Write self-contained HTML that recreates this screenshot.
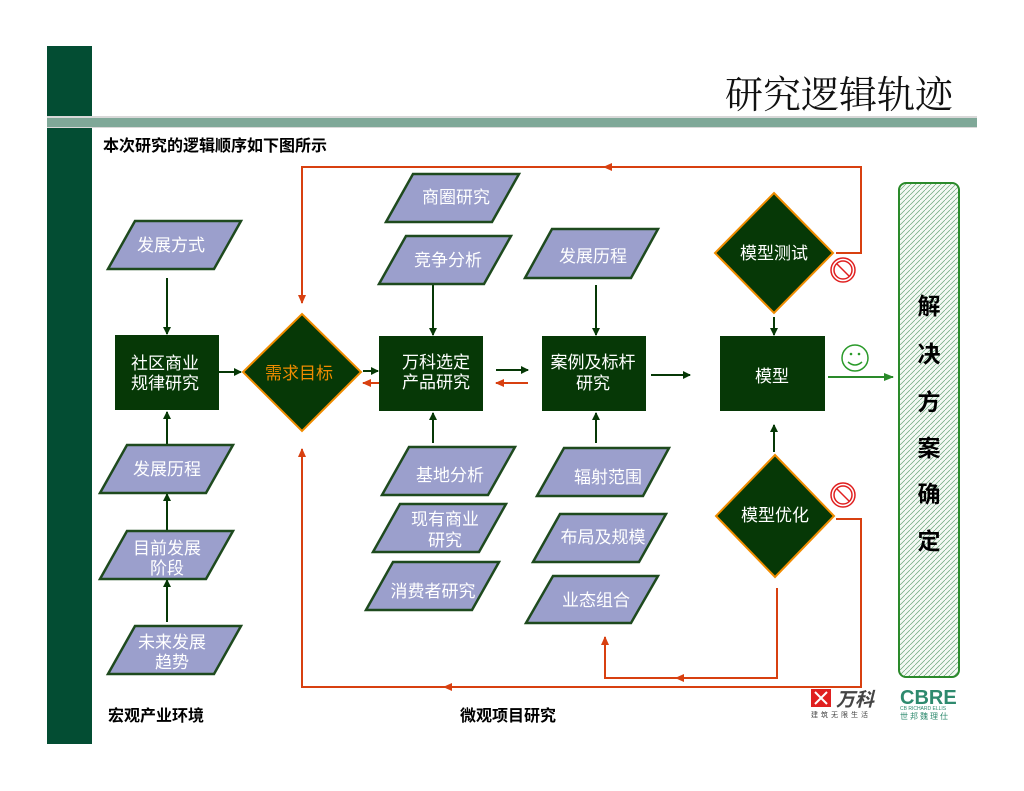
<!DOCTYPE html>
<html><head><meta charset="utf-8"><style>
html,body{margin:0;padding:0;background:#fff;}
svg{display:block;}
text{font-family:"Liberation Sans","Noto Sans CJK SC",sans-serif;}
</style></head><body>
<svg width="1024" height="791" viewBox="0 0 1024 791" xmlns="http://www.w3.org/2000/svg">
<defs>
<marker id="ag" markerWidth="8" markerHeight="8" refX="7" refY="4" orient="auto" markerUnits="userSpaceOnUse"><path d="M0,0 L8,4 L0,8 z" fill="#063806"/></marker>
<marker id="ar" markerWidth="9" markerHeight="8" refX="8" refY="4" orient="auto" markerUnits="userSpaceOnUse"><path d="M0,0 L9,4 L0,8 z" fill="#d84010"/></marker>
<marker id="ag2" markerWidth="10" markerHeight="8" refX="9" refY="4" orient="auto" markerUnits="userSpaceOnUse"><path d="M0,0 L10,4 L0,8 z" fill="#2a8a2a"/></marker>
<pattern id="hatch" width="5" height="5" patternUnits="userSpaceOnUse"><rect width="5" height="5" fill="#f4f9f4"/><path d="M0,5 L5,0" stroke="#6aa67a" stroke-width="0.7"/></pattern>
</defs>
<rect x="47" y="46" width="45" height="698" fill="#034d33"/>
<rect x="47" y="116" width="930" height="12" fill="#d8d8d8"/>
<rect x="47" y="118" width="930" height="9" fill="#7fa898"/>
<text x="953" y="108" font-size="38" text-anchor="end" style="font-family:'Liberation Serif','Noto Serif CJK SC',serif" fill="#111">研究逻辑轨迹</text>
<text x="103" y="151" font-size="16" font-weight="bold" fill="#000">本次研究的逻辑顺序如下图所示</text>

<g stroke="#d84010" stroke-width="2" fill="none">
<polyline points="836,253 861,253 861,167 302,167 302,303" marker-end="url(#ar)"/>
<line x1="620" y1="167" x2="604" y2="167" marker-end="url(#ar)"/>
<polyline points="836,519 861,519 861,687 302,687 302,449" marker-end="url(#ar)"/>
<line x1="460" y1="687" x2="444" y2="687" marker-end="url(#ar)"/>
<polyline points="777,588 777,678 605,678 605,637" marker-end="url(#ar)"/>
<line x1="690" y1="678" x2="676" y2="678" marker-end="url(#ar)"/>
<line x1="379" y1="383" x2="363" y2="383" marker-end="url(#ar)"/>
<line x1="528" y1="383" x2="496" y2="383" marker-end="url(#ar)"/>
</g>

<g stroke="#063806" stroke-width="2" fill="none">
<line x1="167" y1="278" x2="167" y2="334" marker-end="url(#ag)"/>
<line x1="167" y1="445" x2="167" y2="412" marker-end="url(#ag)"/>
<line x1="167" y1="538" x2="167" y2="494" marker-end="url(#ag)"/>
<line x1="167" y1="622" x2="167" y2="580" marker-end="url(#ag)"/>
<line x1="219" y1="372" x2="241" y2="372" marker-end="url(#ag)"/>
<line x1="363" y1="371" x2="378" y2="371" marker-end="url(#ag)"/>
<line x1="496" y1="370" x2="528" y2="370" marker-end="url(#ag)"/>
<line x1="651" y1="375" x2="690" y2="375" marker-end="url(#ag)"/>
<line x1="433" y1="285" x2="433" y2="335" marker-end="url(#ag)"/>
<line x1="433" y1="443" x2="433" y2="413" marker-end="url(#ag)"/>
<line x1="596" y1="285" x2="596" y2="335" marker-end="url(#ag)"/>
<line x1="596" y1="443" x2="596" y2="413" marker-end="url(#ag)"/>
<line x1="774" y1="317" x2="774" y2="335" marker-end="url(#ag)"/>
<line x1="774" y1="452" x2="774" y2="425" marker-end="url(#ag)"/>
</g>
<line x1="828" y1="377" x2="893" y2="377" stroke="#2a8a2a" stroke-width="2" marker-end="url(#ag2)"/>

<g fill="#9b9fcc" stroke="#1e4a1e" stroke-width="2.5">
<polygon points="108,269 135,221 241,221 214,269"/>
<polygon points="100,493 127,445 233,445 206,493"/>
<polygon points="100,579 127,531 233,531 206,579"/>
<polygon points="108,674 135,626 241,626 214,674"/>
<polygon points="386,222 413,174 519,174 492,222"/>
<polygon points="379,284 406,236 511,236 484,284"/>
<polygon points="525,278 552,229 658,229 631,278"/>
<polygon points="382,495 409,447 515,447 488,495"/>
<polygon points="373,552 400,504 506,504 479,552"/>
<polygon points="366,610 393,562 499,562 472,610"/>
<polygon points="537,496 564,448 669,448 643,496"/>
<polygon points="533,562 560,514 666,514 639,562"/>
<polygon points="526,623 553,576 658,576 631,623"/>
</g>
<g fill="#fff" font-size="17" text-anchor="middle">
<text x="171" y="251">发展方式</text>
<text x="167" y="475">发展历程</text>
<text x="167" y="554">目前发展</text><text x="167" y="574">阶段</text>
<text x="172" y="648">未来发展</text><text x="172" y="668">趋势</text>
<text x="456" y="203">商圈研究</text>
<text x="448" y="266">竞争分析</text>
<text x="593" y="262">发展历程</text>
<text x="450" y="481">基地分析</text>
<text x="445" y="525">现有商业</text><text x="445" y="546">研究</text>
<text x="433" y="597">消费者研究</text>
<text x="608" y="483">辐射范围</text>
<text x="603" y="543">布局及规模</text>
<text x="596" y="606">业态组合</text>
</g>

<g fill="#063806">
<rect x="115" y="335" width="104" height="75"/>
<rect x="379" y="336" width="104" height="75"/>
<rect x="542" y="336" width="104" height="75"/>
<rect x="720" y="336" width="105" height="75"/>
</g>
<g fill="#063806" stroke="#f08c00" stroke-width="2">
<polygon points="302,314 361,372 302,431 243,372"/>
<polygon points="774,193 833,253 774,313 715,253"/>
<polygon points="775,455 834,516 775,577 716,516"/>
</g>
<g fill="#fff" font-size="17" text-anchor="middle">
<text x="165" y="369">社区商业</text><text x="165" y="389">规律研究</text>
<text x="436" y="368">万科选定</text><text x="436" y="388">产品研究</text>
<text x="593" y="368">案例及标杆</text><text x="593" y="389">研究</text>
<text x="772" y="382">模型</text>
<text x="774" y="259">模型测试</text>
<text x="775" y="521">模型优化</text>
</g>
<text x="299" y="379" font-size="17" text-anchor="middle" fill="#f08c00">需求目标</text>

<g fill="none" stroke="#e02020" stroke-width="1.5">
<circle cx="843" cy="270" r="12"/><circle cx="843" cy="270" r="9"/><line x1="837" y1="264" x2="849" y2="276"/>
<circle cx="843" cy="495" r="12"/><circle cx="843" cy="495" r="9"/><line x1="837" y1="489" x2="849" y2="501"/>
</g>
<g fill="none" stroke="#2a9a2a" stroke-width="1.5">
<circle cx="855" cy="358" r="13"/>
<path d="M848,362 Q855,368 862,362"/>
</g>
<circle cx="851" cy="354" r="1.3" fill="#2a9a2a"/><circle cx="859" cy="354" r="1.3" fill="#2a9a2a"/>

<rect x="899" y="183" width="60" height="494" rx="7" fill="url(#hatch)" stroke="#2a8a2a" stroke-width="2"/>
<g font-size="23" font-weight="bold" fill="#000" text-anchor="middle">
<text x="929" y="314">解</text>
<text x="929" y="362">决</text>
<text x="929" y="410">方</text>
<text x="929" y="456">案</text>
<text x="929" y="502">确</text>
<text x="929" y="549">定</text>
</g>

<text x="108" y="721" font-size="16" font-weight="bold" fill="#000">宏观产业环境</text>
<text x="460" y="721" font-size="16" font-weight="bold" fill="#000">微观项目研究</text>

<rect x="811" y="689" width="20" height="18" fill="#e02020"/>
<path d="M815,692 L827,704 M827,692 L815,704" stroke="#fff" stroke-width="2"/>
<text x="836" y="706" font-size="19" font-weight="bold" font-style="italic" fill="#444">万科</text>
<text x="811" y="717" font-size="7" fill="#444" letter-spacing="3">建筑无限生活</text>
<text x="900" y="704" font-size="20" font-weight="bold" fill="#2e8a6e">CBRE</text>
<text x="900" y="710" font-size="5" fill="#2e8a6e">CB RICHARD ELLIS</text>
<text x="900" y="719" font-size="8" fill="#2e8a6e" letter-spacing="2">世邦魏理仕</text>
</svg>
</body></html>
